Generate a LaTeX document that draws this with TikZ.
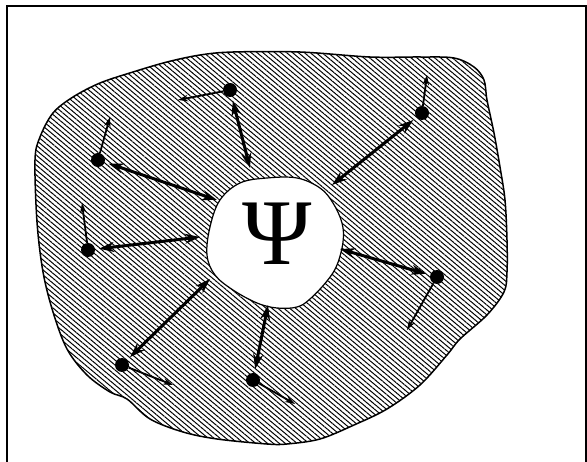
\documentclass[tikz,border=0pt]{standalone}
\usepackage{fontspec}
\newfontfamily\psifont{Liberation Serif}
\usetikzlibrary{arrows.meta,patterns.meta}

\begin{document}
\begin{tikzpicture}[x=1pt,y=-1pt,
    particle/.style={circle, fill=black, inner sep=0pt, minimum size=14pt},
    link/.style={line width=3pt, shorten <=4pt,
        {Stealth[length=15pt,width=10pt]}-{Stealth[length=15pt,width=10pt]}},
    drift/.style={line width=1.8pt, -{Stealth[length=10pt,width=6.5pt]}},
    hatch/.style={pattern={Lines[angle=-40,distance=3.8pt,line width=1pt]}}]
    \useasboundingbox (0,0) rectangle (587,462);
    % frame
    \draw[line width=1.1pt] (7,462) -- (7,6) -- (586,6) -- (586,462);
    % medium
    \filldraw[hatch, draw=black, line width=1.5pt] plot[smooth cycle, tension=0.55] coordinates {
        (35,160) (40,137) (53,113) (73,97) (100,83) (133,72) (167,62) (200,55)
        (233,52) (300,52) (370,57) (420,57) (454,58) (474,67) (484,80) (487,100)
        (494,133) (500,167) (505,200) (507,240) (507,272) (504,292) (487,315)
        (460,339) (447,355) (420,385) (387,409) (354,425) (320,439) (287,444)
        (267,444) (217,439) (183,432) (150,419) (127,399) (110,392) (87,375)
        (67,349) (53,312) (43,272) (37,222)};
    % cavity
    \filldraw[fill=white, draw=black, line width=1.2pt] plot[smooth cycle, tension=0.6] coordinates {
        (207,255) (210,227) (220,200) (240,183) (267,178) (297,178) (320,188)
        (333,203) (342,223) (343,242) (337,265) (327,281) (310,299) (297,307)
        (277,308) (257,303) (233,290) (215,275)};
    \node[inner sep=0pt, font=\fontsize{94}{94}\selectfont\psifont] (psi) at (277,234) {Ψ};
    % particles
    \node[particle] (p1) at (230,90) {};
    \node[particle] (p2) at (98,160) {};
    \node[particle] (p3) at (88,250) {};
    \node[particle] (p4) at (122,365) {};
    \node[particle] (p5) at (253,380) {};
    \node[particle] (p6) at (437,277) {};
    \node[particle] (p7) at (422,113) {};
    % free ends
    \coordinate (v1) at (178,100);
    \coordinate (v2) at (110,117);
    \coordinate (v3) at (82,203);
    \coordinate (v4) at (173,385);
    \coordinate (v5) at (295,404);
    \coordinate (v6) at (407,330);
    \coordinate (v7) at (427,75);
    \coordinate (h1) at (250,168);
    \coordinate (h2) at (217,200);
    \coordinate (h3) at (200,237);
    \coordinate (h4) at (210,279);
    \coordinate (h5) at (268,305);
    \coordinate (h6) at (340,249);
    \coordinate (h7) at (332,185);
    % arrows
    \draw[drift] (p1) -- (v1);
    \draw[drift] (p2) -- (v2);
    \draw[drift] (p3) -- (v3);
    \draw[drift] (p4) -- (v4);
    \draw[drift] (p5) -- (v5);
    \draw[drift] (p6) -- (v6);
    \draw[drift] (p7) -- (v7);
    \draw[link] (p1) -- (h1);
    \draw[link] (p2) -- (h2);
    \draw[link] (p3) -- (h3);
    \draw[link] (p4) -- (h4);
    \draw[link] (p5) -- (h5);
    \draw[link] (p6) -- (h6);
    \draw[link] (p7) -- (h7);
\end{tikzpicture}
\end{document}
